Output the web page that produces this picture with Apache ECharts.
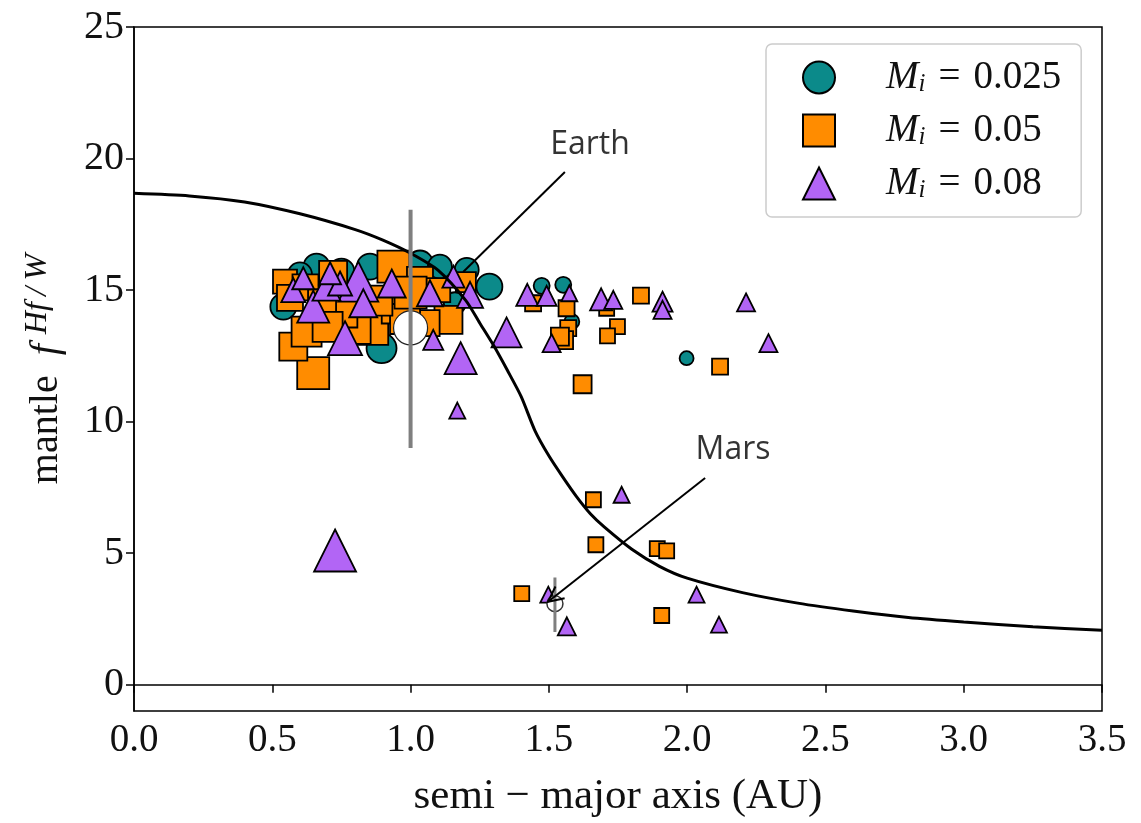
<!DOCTYPE html>
<html><head><meta charset="utf-8">
<script src="https://cdn.jsdelivr.net/npm/echarts@6/dist/echarts.min.js"></script>
<style>html,body{margin:0;padding:0;background:#fff}#c{width:1141px;height:823px}</style>
</head><body><div id="c"></div>
<script>
// ---- data ----
const circX = [1.285,1.474,1.552,1.583,1.998,0.54,0.895,0.66,0.853,1.034,1.106,1.203,0.60,0.75,1.16,0.56];
const circY = [15.13,15.16,15.2,13.8,12.41,14.37,12.79,15.89,15.89,16.01,15.89,15.77,15.6,15.7,14.5,15.2];
const circS = [26,16,16,15,14,26,30,26,26,26,24,24,24,26,22,24];

const sqX = [0.648,0.576,0.624,0.546,0.564,0.938,0.865,0.805,0.72,1.034,1.137,1.058,0.757,0.62,0.68,0.95,1.1,1.2,0.7,0.98,0.88,1.0,1.443,1.564,1.57,1.555,1.54,1.709,1.833,1.748,1.712,2.119,1.622,1.661,1.67,1.892,1.926,1.402,1.908];
const sqY = [11.84,12.85,13.42,15.32,14.7,15.89,13.49,13.49,15.58,15.39,13.87,13.74,14.11,15.1,14.5,14.3,15.0,15.3,13.6,13.9,14.6,14.9,14.5,14.31,13.55,13.1,13.23,14.31,14.79,13.61,13.26,12.09,11.42,7.03,5.32,5.17,5.09,3.46,2.63];
const sqS = [32,28,30,24,26,32,30,28,28,26,28,26,28,26,28,30,24,20,30,30,30,32,16,16,16,18,18,15,16,15,15,16,18,15,15,15,15,15,15];

const triX = [1.422,1.492,1.574,1.51,1.689,1.733,1.911,1.911,2.213,2.294,1.169,1.347,1.181,0.727,1.763,1.498,1.565,2.034,2.115,0.811,0.648,0.576,0.696,0.745,0.612,0.932,0.829,0.763,1.07,1.155,1.215,1.082,0.709];
const triY = [14.82,14.78,14.88,12.98,14.65,14.63,14.56,14.25,14.53,12.98,10.42,13.39,12.41,5.1,7.22,3.42,2.22,3.42,2.28,15.32,14.37,15.0,15.13,15.25,15.45,15.25,14.5,13.17,14.88,15.51,14.82,13.11,15.64];
const triS = [22,20,16,18,22,18,20,18,18,18,16,30,32,42,16,16,18,16,16,40,32,24,28,24,22,28,28,34,26,22,26,20,22];

const curveX = [0,0.2,0.4,0.6,0.8,0.9,1.0,1.1,1.2,1.25,1.3,1.35,1.4,1.45,1.5,1.55,1.6,1.65,1.7,1.8,1.9,2.0,2.2,2.4,2.6,2.8,3.0,3.25,3.5];
const curveY = [18.68,18.58,18.35,17.9,17.3,16.9,16.4,15.75,14.6,13.75,12.9,11.95,10.95,9.65,8.7,7.9,7.15,6.5,6.0,5.15,4.5,4.05,3.5,3.1,2.8,2.55,2.38,2.2,2.07];

const earth = {x:1.0, y:13.56, barLo:9.0, barHi:18.05, label:[1.649,20.52], ptrFrom:[1.558,19.49], ptrTo:[1.19,15.69]};
const mars  = {x:1.522, y:3.08, barLo:2.0, barHi:4.07, label:[2.166,8.93], ptrFrom:[2.065,7.86], ptrTo:[1.497,3.15]};

const xTicks = [0,0.5,1,1.5,2,2.5,3,3.5];
const yTicks = [0,5,10,15,20,25];
const legendNames = ['0.025','0.05','0.08'];

// ---- build ----
const serif = 'Liberation Serif';
const zip3 = (a,b,c)=>a.map((v,i)=>[v,b[i],c[i]]);
const edge = {borderColor:'#000', borderWidth:1.8, opacity:1};

const chart = echarts.init(document.getElementById('c'), null, {renderer:'canvas'});
const legRich = {
  m:{fontFamily:serif, fontStyle:'italic', fontSize:39, color:'#111', padding:[0,0,0,46]},
  i:{fontFamily:serif, fontStyle:'italic', fontSize:25, color:'#111', verticalAlign:'bottom', padding:[14,0,0,0]},
  e:{fontFamily:serif, fontSize:39, color:'#111'}
};
chart.setOption({
  animation:false,
  grid:{left:134, right:39, top:27, bottom:112, show:true, borderColor:'#000', borderWidth:1.5, backgroundColor:'transparent'},
  legend:{
    left:766, top:44, orient:'vertical', itemWidth:32, itemHeight:32, itemGap:14,
    padding:[14,20,14,36], borderColor:'#cccccc', borderWidth:1.5, borderRadius:6, backgroundColor:'#fff',
    data:['a','b','c'],
    formatter:n=>'{m|M}{i|i}{e|\u2004=\u2004'+legendNames[{a:0,b:1,c:2}[n]]+'}',
    textStyle:{rich:legRich}
  },
  xAxis:{type:'value', min:0, max:3.5, interval:0.5,
    name:'semi \u2212 major axis (AU)', nameLocation:'middle', nameGap:64,
    nameTextStyle:{fontFamily:serif, fontSize:43, color:'#111'},
    axisLine:{lineStyle:{color:'#000', width:1.5}},
    axisTick:{length:8, lineStyle:{color:'#000', width:1.5}},
    axisLabel:{fontFamily:serif, fontSize:39, color:'#111', margin:10, formatter:v=>v.toFixed(1)},
    splitLine:{show:false}},
  yAxis:{type:'value', min:-1, max:25,
    name:'{a|mantle}{f|f}{s|Hf\u2009/\u2009W}', nameLocation:'middle', nameRotate:90, nameGap:64,
    nameTextStyle:{rich:{
      a:{fontFamily:serif, fontSize:40, color:'#111', padding:[0,20,0,0]},
      f:{fontFamily:serif, fontSize:40, fontStyle:'italic', color:'#111'},
      s:{fontFamily:serif, fontSize:32, fontStyle:'italic', color:'#111', verticalAlign:'top', padding:[0,0,16,10]}
    }},
    axisLine:{lineStyle:{color:'#000', width:1.5}},
    axisTick:{length:8, customValues:yTicks, lineStyle:{color:'#000', width:1.5}},
    axisLabel:{fontFamily:serif, fontSize:40, color:'#111', margin:10, customValues:yTicks},
    splitLine:{show:false}},
  series:[
    {name:'a', type:'scatter', symbol:'circle', data:zip3(circX,circY,circS), symbolSize:d=>d[2],
      itemStyle:Object.assign({color:'#0b8a8a'},edge), z:2},
    {name:'b', type:'scatter', symbol:'rect', data:zip3(sqX,sqY,sqS), symbolSize:d=>d[2],
      itemStyle:Object.assign({color:'#ff8c00'},edge), z:3},
    {name:'c', type:'scatter', symbol:'triangle', data:zip3(triX,triY,triS), symbolSize:d=>d[2],
      itemStyle:Object.assign({color:'#b265f5'},edge), z:4},
    {type:'line', data:curveX.map((v,i)=>[v,curveY[i]]), smooth:0.25, showSymbol:false, symbol:'none',
      lineStyle:{color:'#000', width:3}, z:6, silent:true},
    {type:'scatter', data:[[earth.x,earth.y]], symbolSize:34, itemStyle:{color:'#fff', borderColor:'#222', borderWidth:1.2, opacity:1}, z:7},
    {type:'line', data:[[earth.x,earth.barLo],[earth.x,earth.barHi]], symbol:'none', lineStyle:{color:'#7f7f7f', width:4}, z:8},
    {type:'scatter', data:[[mars.x,mars.y]], symbolSize:16, itemStyle:{color:'#fff', borderColor:'#333', borderWidth:1.5, opacity:1}, z:7},
    {type:'line', data:[[mars.x,mars.barLo],[mars.x,mars.barHi]], symbol:'none', lineStyle:{color:'#7f7f7f', width:3}, z:8},
    {type:'line', data:[earth.ptrFrom, earth.ptrTo], symbol:'none', lineStyle:{color:'#000', width:2}, z:9},
    {type:'custom', z:9, data:[[mars.ptrFrom[0],mars.ptrFrom[1],mars.ptrTo[0],mars.ptrTo[1]]],
      renderItem:(params, api)=>{
        const a = api.coord([api.value(0),api.value(1)]);
        const b = api.coord([api.value(2),api.value(3)]);
        const dx=b[0]-a[0], dy=b[1]-a[1], L=Math.hypot(dx,dy), ux=dx/L, uy=dy/L;
        const hl=17, ang=0.45;
        const rot=(t)=>[ux*Math.cos(t)-uy*Math.sin(t), ux*Math.sin(t)+uy*Math.cos(t)];
        const r1=rot(ang), r2=rot(-ang);
        return {type:'group', children:[
          {type:'line', shape:{x1:a[0],y1:a[1],x2:b[0],y2:b[1]}, style:{stroke:'#000', lineWidth:2}},
          {type:'polyline', shape:{points:[[b[0]-r1[0]*hl,b[1]-r1[1]*hl],[b[0],b[1]],[b[0]-r2[0]*hl,b[1]-r2[1]*hl]]}, style:{stroke:'#000', lineWidth:2, fill:null}}
        ]};
      }},
    {type:'scatter', symbolSize:0, z:10, data:[{value:earth.label, name:'Earth'},{value:mars.label, name:'Mars'}],
      label:{show:true, position:'inside', formatter:p=>p.name, fontFamily:'Open Sans', fontSize:32, color:'#000'}}
  ]
});
</script></body></html>
